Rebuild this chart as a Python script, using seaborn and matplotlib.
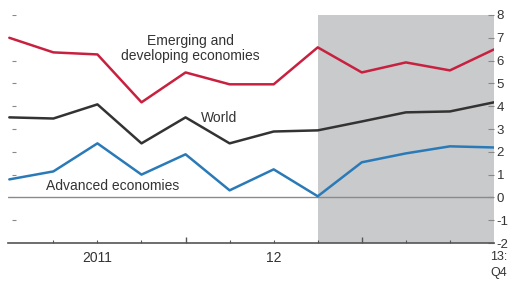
import pandas as pd
import seaborn as sns
import matplotlib.pyplot as plt

# 2011Q1 .. 2013Q4
quarters = ["2011Q1", "2011Q2", "2011Q3", "2011Q4",
            "2012Q1", "2012Q2", "2012Q3", "2012Q4",
            "2013Q1", "2013Q2", "2013Q3", "2013Q4"]
emerging = [7.0, 6.36, 6.27, 4.17, 5.48, 4.96, 4.96, 6.58, 5.48, 5.92, 5.57, 6.49]
world = [3.51, 3.46, 4.08, 2.37, 3.51, 2.37, 2.89, 2.94, 3.33, 3.73, 3.77, 4.17]
advanced = [0.79, 1.14, 2.37, 1.0, 1.89, 0.31, 1.23, 0.05, 1.54, 1.93, 2.24, 2.19]
y_ticks = [8, 7, 6, 5, 4, 3, 2, 1, 0, -1, -2]

df = pd.DataFrame({
    "q": list(range(len(quarters))) * 3,
    "value": emerging + world + advanced,
    "series": ["Emerging"] * 12 + ["World"] * 12 + ["Advanced"] * 12,
})

sns.set_style("white")
plt.rcParams["font.family"] = ["Liberation Sans", "DejaVu Sans"]

fig = plt.figure(figsize=(5.09, 2.86), dpi=100)
ax = fig.add_axes([0.0157, 0.1503, 0.9548, 0.7973])

# projection shading
ax.axvspan(7, 11, color="#c9cacc", lw=0, zorder=0)
ax.axhline(0, color="#8a8a8a", lw=1.0, zorder=1)

palette = {"Emerging": "#c8203f", "World": "#333333", "Advanced": "#2a7ab8"}
sns.lineplot(data=df, x="q", y="value", hue="series", palette=palette,
             linewidth=1.8, legend=False, ax=ax, zorder=3)

ax.set_xlim(-0.03, 11)
ax.set_ylim(-2, 8)
ax.set_xlabel("")
ax.set_ylabel("")

for s in ["top", "left", "right"]:
    ax.spines[s].set_visible(False)
ax.spines["bottom"].set_color("#555555")
ax.spines["bottom"].set_linewidth(1.2)

# y ticks on right
ax.yaxis.tick_right()
ax.set_yticks(y_ticks)
ax.set_yticklabels([str(t) for t in y_ticks], fontsize=9.5, color="#333333")
ax.tick_params(axis="y", direction="in", length=4, width=0.8, color="#888888", pad=2)

# left small dashes
for t in y_ticks:
    if t in (7, 0, -2):
        continue
    ax.plot([0.05, 0.15], [t, t], color="#888888", lw=0.8, zorder=2,
            solid_capstyle="butt")

# x ticks: quarter minor ticks, year boundary major ticks
ax.set_xticks([1, 2, 3, 5, 6, 7, 9, 10], minor=True)
ax.set_xticks([4, 8])
ax.set_xticklabels([])
ax.tick_params(axis="x", which="both", direction="in", bottom=True, color="#555555")
ax.tick_params(axis="x", which="minor", length=2.5, width=0.8)
ax.tick_params(axis="x", which="major", length=4, width=1.0)

trans = ax.get_xaxis_transform()
ax.text(2.0, -0.035, "2011", transform=trans, ha="center", va="top", fontsize=10, color="#333333")
ax.text(6.0, -0.035, "12", transform=trans, ha="center", va="top", fontsize=10, color="#333333")
ax.text(11.1, -0.035, "13:\nQ4", transform=trans, ha="center", va="top", fontsize=9,
        color="#333333", linespacing=1.4)

ax.text(4.1, 6.55, "Emerging and\ndeveloping economies", ha="center", va="center",
        fontsize=10, color="#333333", linespacing=1.1)
ax.text(4.75, 3.47, "World", ha="center", va="center", fontsize=10, color="#333333")
ax.text(2.35, 0.5, "Advanced economies", ha="center", va="center", fontsize=10, color="#333333")

fig.savefig("out.png", dpi=100)
